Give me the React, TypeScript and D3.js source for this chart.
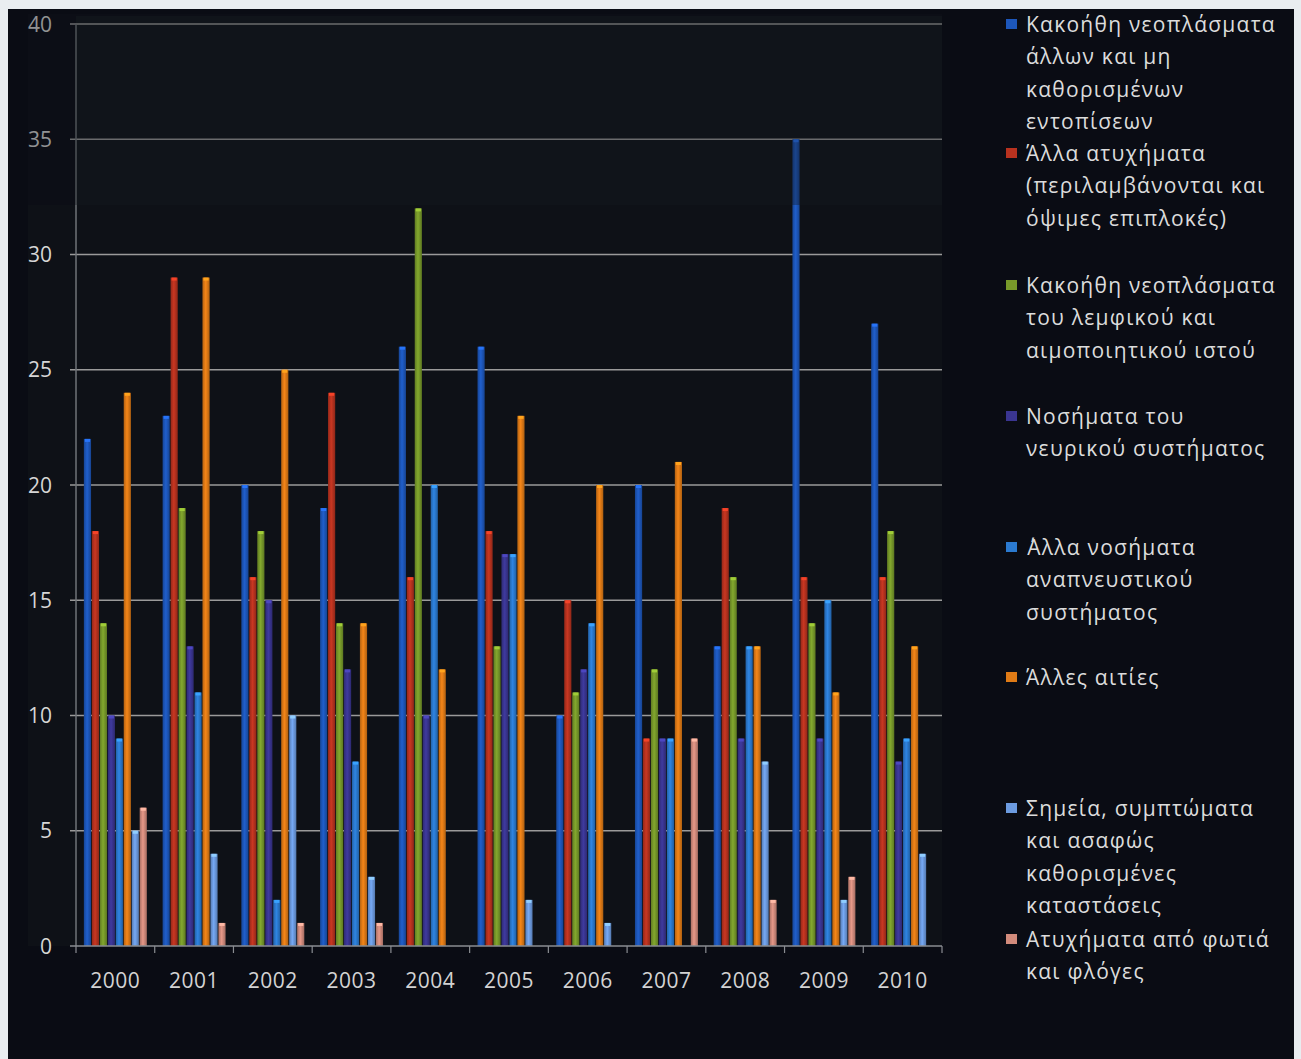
import React, { useEffect, useRef } from "react";
import * as d3 from "d3";

// Years on the category axis
const years = ["2000", "2001", "2002", "2003", "2004", "2005", "2006", "2007", "2008", "2009", "2010"];

// One array per cause of death, one value per year
const malignantOther = [22, 23, 20, 19, 26, 26, 10, 20, 13, 35, 27];
const otherAccidents = [18, 29, 16, 24, 16, 18, 15, 9, 19, 16, 16];
const malignantLymphatic = [14, 19, 18, 14, 32, 13, 11, 12, 16, 14, 18];
const nervousSystem = [10, 13, 15, 12, 10, 17, 12, 9, 9, 9, 8];
const otherRespiratory = [9, 11, 2, 8, 20, 17, 14, 9, 13, 15, 9];
const otherCauses = [24, 29, 25, 14, 12, 23, 20, 21, 13, 11, 13];
const illDefined = [5, 4, 10, 3, 0, 2, 1, 0, 8, 2, 4];
const fireAccidents = [6, 1, 1, 1, 0, 0, 0, 9, 2, 3, 0];

const yTicks = [0, 5, 10, 15, 20, 25, 30, 35, 40];

const seriesNames = [
  ["Κακοήθη νεοπλάσματα", "άλλων και μη", "καθορισμένων", "εντοπίσεων"],
  ["Άλλα ατυχήματα", "(περιλαμβάνονται και", "όψιμες επιπλοκές)"],
  ["Κακοήθη νεοπλάσματα", "του λεμφικού και", "αιμοποιητικού ιστού"],
  ["Νοσήματα του", "νευρικού συστήματος"],
  ["΄Αλλα νοσήματα", "αναπνευστικού", "συστήματος"],
  ["Άλλες αιτίες"],
  ["Σημεία, συμπτώματα", "και ασαφώς", "καθορισμένες", "καταστάσεις"],
  ["Ατυχήματα από φωτιά", "και φλόγες"],
];

const seriesColors = ["#1d57bb", "#b8321f", "#789a2a", "#3a3591", "#2b7ad0", "#e07b16", "#6c9be0", "#d28b7c"];

// Vertical position of each legend entry's first line
const legendTops = [24, 153, 285, 416, 547, 677, 808, 939];

const seriesValues = [
  malignantOther,
  otherAccidents,
  malignantLymphatic,
  nervousSystem,
  otherRespiratory,
  otherCauses,
  illDefined,
  fireAccidents,
];

const W = 1301;
const H = 1059;
const M = { left: 76, right: 942, top: 24, bottom: 946 };

export default function App() {
  const ref = useRef<SVGSVGElement | null>(null);

  useEffect(() => {
    const svg = d3.select(ref.current);
    svg.selectAll("*").remove();

    const font = "'Open Sans', 'DejaVu Sans', sans-serif";

    const y = d3.scaleLinear().domain([0, 40]).range([M.bottom, M.top]);
    const x0 = d3.scaleBand<string>().domain(years).range([M.left, M.right]).paddingInner(0.2).paddingOuter(0.1);
    const x1 = d3
      .scaleBand<number>()
      .domain(d3.range(seriesValues.length))
      .range([0, x0.bandwidth()])
      .paddingInner(0.1);

    // page frame and dark panel
    svg.append("rect").attr("width", W).attr("height", H).attr("fill", "#e9edf0");
    svg.append("rect").attr("x", 8).attr("y", 9).attr("width", 1286).attr("height", H - 9).attr("fill", "#0a0c14");
    svg.append("rect").attr("x", 28).attr("y", 205).attr("width", M.right - 28).attr("height", M.bottom - 205).attr("fill", "#0e1117");
    svg.append("rect").attr("x", M.left).attr("y", 16).attr("width", M.right - M.left).attr("height", 189).attr("fill", "#10151b");

    const defs = svg.append("defs");
    seriesColors.forEach((c, i) => {
      const g = defs.append("linearGradient").attr("id", `bar${i}`).attr("x1", 0).attr("x2", 1).attr("y1", 0).attr("y2", 0);
      const base = d3.color(c)!;
      g.append("stop").attr("offset", "0%").attr("stop-color", base.darker(0.6).formatHex());
      g.append("stop").attr("offset", "45%").attr("stop-color", base.brighter(0.25).formatHex());
      g.append("stop").attr("offset", "100%").attr("stop-color", base.darker(0.7).formatHex());
    });

    // gridlines
    const grid = svg.append("g");
    grid
      .selectAll("line")
      .data(yTicks.filter((t) => t > 0))
      .join("line")
      .attr("x1", M.left - 6)
      .attr("x2", M.right)
      .attr("y1", (d) => y(d))
      .attr("y2", (d) => y(d))
      .attr("stroke", "#9a9a9a")
      .attr("stroke-width", 1.6);

    // value axis
    svg
      .append("line")
      .attr("x1", M.left)
      .attr("x2", M.left)
      .attr("y1", y(40))
      .attr("y2", M.bottom)
      .attr("stroke", "#6f7378")
      .attr("stroke-width", 1.5);

    svg
      .append("g")
      .selectAll("text")
      .data(yTicks)
      .join("text")
      .attr("x", 52)
      .attr("y", (d) => y(d))
      .attr("dy", "0.36em")
      .attr("text-anchor", "end")
      .attr("font-family", font)
      .attr("font-size", 21)
      .attr("fill", "#d6d6d6")
      .text((d) => d);

    // bars
    const groups = svg
      .append("g")
      .selectAll("g")
      .data(years)
      .join("g")
      .attr("transform", (d) => `translate(${x0(d)},0)`);

    seriesValues.forEach((vals, si) => {
      groups.each(function (_yr, yi) {
        const v = vals[yi];
        if (v <= 0) return;
        const g = d3.select(this);
        const bx = x1(si)!;
        const bw = x1.bandwidth();
        g.append("rect")
          .attr("x", bx)
          .attr("y", y(v))
          .attr("width", bw)
          .attr("height", y(0) - y(v))
          .attr("fill", `url(#bar${si})`);
        g.append("rect")
          .attr("x", bx + 1)
          .attr("y", y(v))
          .attr("width", bw - 2)
          .attr("height", 3)
          .attr("fill", d3.color(seriesColors[si])!.brighter(0.8).formatHex());
      });
    });

    // dim, soft band over the top of the plot
    svg
      .append("rect")
      .attr("x", 28)
      .attr("y", 14)
      .attr("width", M.right - 28)
      .attr("height", 191)
      .attr("fill", "#10151b")
      .attr("opacity", 0.35);

    // category axis
    svg
      .append("line")
      .attr("x1", M.left - 6)
      .attr("x2", M.right)
      .attr("y1", M.bottom)
      .attr("y2", M.bottom)
      .attr("stroke", "#8a8d92")
      .attr("stroke-width", 1.5);

    const bounds = years.map((d) => x0(d)! - x0.step() * 0.1).concat([M.right]);
    svg
      .append("g")
      .selectAll("line")
      .data(bounds)
      .join("line")
      .attr("x1", (d) => d)
      .attr("x2", (d) => d)
      .attr("y1", M.bottom)
      .attr("y2", M.bottom + 7)
      .attr("stroke", "#8a8d92")
      .attr("stroke-width", 1.2);

    svg
      .append("g")
      .selectAll("text")
      .data(years)
      .join("text")
      .attr("x", (d) => x0(d)! + x0.bandwidth() / 2)
      .attr("y", 980)
      .attr("dy", "0.36em")
      .attr("text-anchor", "middle")
      .attr("font-family", font)
      .attr("font-size", 21)
      .attr("letter-spacing", 0.5)
      .attr("fill", "#d3d3d3")
      .text((d) => d);

    // legend
    const lg = svg.append("g");
    seriesNames.forEach((lines, i) => {
      const top = legendTops[i];
      lg.append("rect")
        .attr("x", 1006)
        .attr("y", top - 5)
        .attr("width", 11)
        .attr("height", 10)
        .attr("fill", seriesColors[i]);
      lines.forEach((ln, j) => {
        lg.append("text")
          .attr("x", 1026)
          .attr("y", top + j * 32.5)
          .attr("dy", "0.36em")
          .attr("font-family", font)
          .attr("font-size", 21)
          .attr("letter-spacing", 1.25)
          .attr("fill", "#dcdcdc")
          .text(ln);
      });
    });
  }, []);

  return (
    <svg
      ref={ref}
      width={W}
      height={H}
      style={{ position: "absolute", left: 0, top: 0, display: "block" }}
    />
  );
}
